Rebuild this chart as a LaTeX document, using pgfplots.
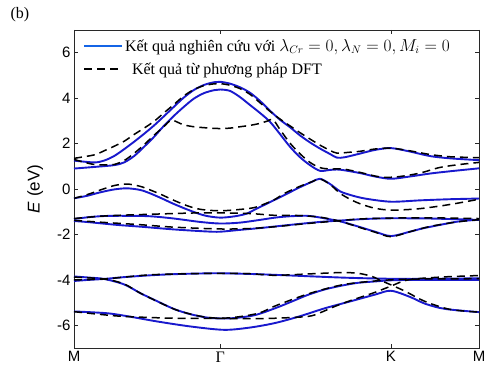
\documentclass[border=0pt]{standalone}
\usepackage{fontspec}
\setmainfont{Liberation Serif}
\newfontfamily\arial{Liberation Sans}
\usepackage{pgfplots}
\pgfplotsset{compat=1.18}
\definecolor{bandblue}{RGB}{25,25,205}
\definecolor{legblue}{RGB}{20,100,230}
\definecolor{axgray}{RGB}{40,40,40}
\begin{document}
\begin{tikzpicture}
\begin{axis}[
  at={(0,0)}, anchor=south west,
  scale only axis, width=405pt, height=318pt,
  xmin=0, xmax=1.577, ymin=-7, ymax=7,
  xtick={0,0.569,1.234,1.577},
  xticklabels={M,{\rmfamily\fontsize{16}{16}\selectfont Γ},K,M},
  ytick={-6,-4,-2,0,2,4,6},
  tick align=inside,
  major tick length=4pt,
  axis line style={axgray, line width=0.6pt},
  tick style={axgray, line width=0.6pt},
  ticklabel style={font=\arial\fontsize{15}{15}\selectfont, text=black},
  /pgf/number format/assume math mode=true,
  ylabel={\textit{E} (eV)},
  ylabel style={font=\arial\fontsize{17}{17}\selectfont, at={(axis description cs:-0.096,0.5)}, anchor=center},
  legend image code/.code={\draw[#1] (0pt,0pt) -- (38pt,0pt);},
  legend style={draw=none, fill=none, at={(axis description cs:0.022,0.978)}, anchor=north west,
    font=\fontsize{16}{18}\selectfont, inner sep=0pt, row sep=6pt, cells={anchor=west}},
  blueband/.style={bandblue, line width=1.9pt, smooth, tension=0.5},
  dftband/.style={black, line width=1.5pt, dash pattern=on 8pt off 5pt, smooth, tension=0.5},
]
\addlegendimage{legblue, line width=1.9pt}
\addlegendentry{Kết quả nghiên cứu với $\lambda_{Cr}=0, \lambda_{N}=0, M_{i}=0$}
\addlegendimage{black, line width=1.5pt, dash pattern=on 8pt off 5pt}
\addlegendentry{\hspace*{7pt}Kết quả từ phương pháp DFT}

% ---- model bands (blue) ----
\addplot[blueband] coordinates {(0,1.25) (0.078,1.17) (0.117,1.25) (0.156,1.45) (0.195,1.75) (0.234,2.08) (0.273,2.43) (0.312,2.80) (0.350,3.20) (0.389,3.62) (0.428,4.03) (0.467,4.36) (0.506,4.58) (0.545,4.70) (0.569,4.72) (0.607,4.64) (0.646,4.48) (0.685,4.24) (0.724,3.88) (0.763,3.45) (0.802,3.05) (0.841,2.72) (0.880,2.36) (0.919,2.05) (0.958,1.78) (0.997,1.54) (1.024,1.38) (1.055,1.40) (1.114,1.56) (1.172,1.72) (1.234,1.80) (1.308,1.65) (1.386,1.45) (1.464,1.35) (1.577,1.27)};
\addplot[blueband] coordinates {(0,0.90) (0.078,0.97) (0.156,1.05) (0.195,1.17) (0.234,1.45) (0.273,1.86) (0.312,2.30) (0.350,2.78) (0.389,3.22) (0.428,3.62) (0.467,3.98) (0.506,4.22) (0.545,4.35) (0.569,4.38) (0.607,4.32) (0.646,4.05) (0.685,3.70) (0.724,3.35) (0.763,2.96) (0.802,2.42) (0.841,1.86) (0.880,1.40) (0.919,1.05) (0.958,0.80) (0.997,0.84) (1.036,0.85) (1.114,0.70) (1.172,0.55) (1.234,0.45) (1.308,0.55) (1.386,0.68) (1.464,0.78) (1.577,0.91)};
\addplot[blueband] coordinates {(0,-0.41) (0.051,-0.30) (0.101,-0.15) (0.156,-0.02) (0.206,0.03) (0.257,-0.04) (0.296,-0.19) (0.343,-0.42) (0.389,-0.66) (0.452,-0.95) (0.510,-1.17) (0.569,-1.26) (0.627,-1.20) (0.674,-1.08) (0.705,-0.90) (0.763,-0.58) (0.822,-0.25) (0.880,0.08) (0.927,0.32) (0.958,0.45) (0.997,0.22) (1.036,-0.10) (1.075,-0.26) (1.133,-0.42) (1.234,-0.56) (1.347,-0.50) (1.464,-0.45) (1.577,-0.42)};
\addplot[blueband] coordinates {(0,-1.32) (0.058,-1.24) (0.117,-1.19) (0.195,-1.18) (0.296,-1.20) (0.389,-1.30) (0.491,-1.45) (0.569,-1.52) (0.646,-1.48) (0.724,-1.36) (0.783,-1.26) (0.841,-1.20) (0.907,-1.18) (0.950,-1.24) (1.009,-1.36) (1.036,-1.42) (1.106,-1.65) (1.172,-1.88) (1.234,-2.07) (1.308,-1.88) (1.359,-1.73) (1.425,-1.58) (1.491,-1.44) (1.542,-1.38) (1.577,-1.36)};
\addplot[blueband] coordinates {(0,-1.41) (0.058,-1.46) (0.167,-1.58) (0.261,-1.66) (0.389,-1.78) (0.518,-1.87) (0.569,-1.88) (0.646,-1.80) (0.724,-1.72) (0.783,-1.65) (0.841,-1.58) (0.958,-1.45) (1.036,-1.39) (1.133,-1.32) (1.234,-1.29) (1.386,-1.30) (1.577,-1.36)};
\addplot[blueband] coordinates {(0,-4.05) (0.058,-4.00) (0.117,-3.96) (0.195,-3.88) (0.296,-3.80) (0.389,-3.75) (0.491,-3.72) (0.569,-3.71) (0.685,-3.74) (0.783,-3.78) (0.911,-3.84) (1.044,-3.90) (1.172,-3.94) (1.301,-3.96) (1.425,-3.95) (1.577,-3.93)};
\addplot[blueband] coordinates {(0,-3.85) (0.058,-3.90) (0.117,-3.96) (0.195,-4.20) (0.261,-4.60) (0.335,-5.00) (0.393,-5.30) (0.456,-5.52) (0.518,-5.66) (0.569,-5.70) (0.627,-5.68) (0.705,-5.55) (0.783,-5.25) (0.849,-4.95) (0.911,-4.66) (0.977,-4.42) (1.044,-4.25) (1.106,-4.13) (1.172,-4.07) (1.234,-4.02) (1.347,-4.00) (1.577,-4.00)};
\addplot[blueband] coordinates {(0,-5.39) (0.129,-5.47) (0.218,-5.62) (0.323,-5.83) (0.452,-6.05) (0.584,-6.20) (0.685,-6.10) (0.783,-5.90) (0.880,-5.60) (0.977,-5.25) (1.075,-4.95) (1.172,-4.65) (1.234,-4.48) (1.308,-4.75) (1.367,-5.05) (1.445,-5.28) (1.577,-5.42)};

% ---- DFT bands (dashed) ----
\addplot[dftband] coordinates {(0,1.35) (0.078,1.50) (0.117,1.68) (0.156,1.88) (0.195,2.10) (0.234,2.40) (0.273,2.68) (0.312,2.98) (0.350,3.35) (0.389,3.72) (0.428,4.10) (0.467,4.38) (0.506,4.55) (0.545,4.63) (0.569,4.64) (0.607,4.57) (0.646,4.42) (0.685,4.17) (0.724,3.80) (0.763,3.42) (0.802,3.08) (0.841,2.78) (0.880,2.48) (0.919,2.20) (0.958,1.93) (0.997,1.70) (1.024,1.58) (1.075,1.62) (1.114,1.66) (1.172,1.76) (1.234,1.80) (1.308,1.68) (1.386,1.52) (1.464,1.42) (1.577,1.38)};
\addplot[dftband] coordinates {(0,1.30) (0.039,1.18) (0.078,1.08) (0.117,1.06) (0.156,1.08) (0.195,1.25) (0.234,1.57) (0.273,1.95) (0.312,2.37) (0.350,2.75) (0.378,3.03) (0.405,2.93) (0.428,2.82) (0.467,2.74) (0.506,2.70) (0.545,2.67) (0.569,2.66) (0.607,2.68) (0.646,2.74) (0.685,2.80) (0.724,2.89) (0.755,3.00) (0.775,3.06) (0.802,2.62) (0.841,2.02) (0.880,1.55) (0.919,1.17) (0.958,0.94) (0.997,0.88) (1.048,0.88) (1.114,0.73) (1.172,0.57) (1.211,0.51) (1.269,0.55) (1.347,0.70) (1.425,0.95) (1.503,1.08) (1.577,1.17)};
\addplot[dftband] coordinates {(0,-0.41) (0.051,-0.25) (0.101,-0.05) (0.156,0.15) (0.206,0.22) (0.257,0.12) (0.296,-0.04) (0.343,-0.26) (0.389,-0.50) (0.444,-0.75) (0.495,-0.90) (0.569,-0.96) (0.646,-0.90) (0.701,-0.82) (0.744,-0.65) (0.779,-0.48) (0.822,-0.18) (0.880,0.12) (0.927,0.32) (0.958,0.44) (0.997,0.20) (1.036,-0.19) (1.075,-0.45) (1.114,-0.65) (1.172,-0.85) (1.234,-0.93) (1.308,-0.90) (1.359,-0.85) (1.425,-0.75) (1.491,-0.63) (1.577,-0.45)};
\addplot[dftband] coordinates {(0,-1.30) (0.101,-1.20) (0.195,-1.15) (0.389,-1.08) (0.491,-1.05) (0.569,-1.05) (0.685,-1.08) (0.783,-1.16) (0.880,-1.17) (0.958,-1.24) (1.036,-1.42) (1.114,-1.70) (1.172,-1.90) (1.234,-2.10) (1.308,-1.88) (1.386,-1.65) (1.491,-1.45) (1.577,-1.35)};
\addplot[dftband] coordinates {(0,-1.38) (0.101,-1.46) (0.257,-1.57) (0.389,-1.68) (0.569,-1.76) (0.685,-1.74) (0.783,-1.66) (0.880,-1.55) (1.028,-1.40) (1.114,-1.32) (1.234,-1.28) (1.386,-1.27) (1.577,-1.30)};
\addplot[dftband] coordinates {(0,-4.00) (0.117,-3.96) (0.296,-3.78) (0.491,-3.72) (0.569,-3.71) (0.685,-3.73) (0.783,-3.80) (0.911,-3.74) (1.036,-3.68) (1.106,-3.71) (1.160,-3.85) (1.199,-4.05) (1.234,-4.22) (1.289,-4.50) (1.367,-4.95) (1.464,-5.30) (1.577,-5.42)};
\addplot[dftband] coordinates {(0,-3.88) (0.117,-3.96) (0.195,-4.18) (0.261,-4.60) (0.393,-5.30) (0.491,-5.60) (0.569,-5.69) (0.646,-5.62) (0.724,-5.45) (0.783,-5.15) (0.911,-4.62) (1.044,-4.22) (1.172,-4.05) (1.301,-3.97) (1.577,-3.95)};
\addplot[dftband] coordinates {(0,-5.40) (0.101,-5.52) (0.195,-5.61) (0.389,-5.69) (0.569,-5.70) (0.685,-5.71) (0.783,-5.69) (0.911,-5.61) (0.958,-5.45) (1.009,-5.20) (1.055,-5.00) (1.106,-4.80) (1.172,-4.55) (1.231,-4.29) (1.301,-4.00) (1.425,-3.88) (1.577,-3.81)};
\end{axis}
\node[font=\fontsize{16}{16}\selectfont, anchor=center] at (-54pt,333pt) {(b)};
\pgfresetboundingbox
\path[use as bounding box] (-74pt,-27pt) rectangle (411pt,348pt);
\end{tikzpicture}
\end{document}
